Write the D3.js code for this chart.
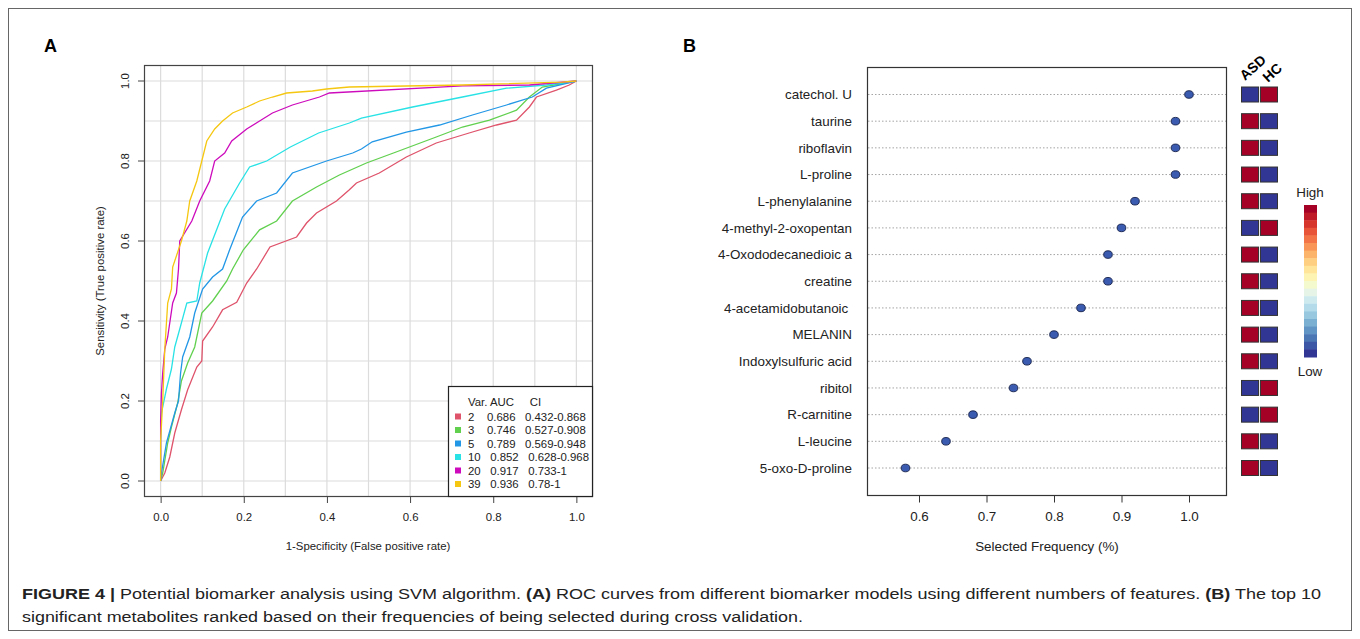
<!DOCTYPE html>
<html><head><meta charset="utf-8">
<script src="https://cdn.jsdelivr.net/npm/d3@7"></script>
<style>
body{margin:0;background:#fff;}
svg{display:block;font-family:"Liberation Sans",Arial,Helvetica,sans-serif;}
text{white-space:pre;}
</style></head><body>
<svg id="c" width="1360" height="639"></svg>
<script>
// ---------- Panel A data ----------
const rocVars = ["2","3","5","10","20","39"];
const rocAUC = ["0.686","0.746","0.789","0.852","0.917","0.936"];
const rocCI = ["0.432-0.868","0.527-0.908","0.569-0.948","0.628-0.968","0.733-1","0.78-1"];
const rocTicks = [0,0.2,0.4,0.6,0.8,1.0];
const rocGrid = [0,0.1,0.2,0.3,0.4,0.5,0.6,0.7,0.8,0.9,1.0];
const roc2 = [[0,0],[0.01,0.02],[0.022,0.06],[0.034,0.12],[0.05,0.178],[0.065,0.228],[0.087,0.285],[0.099,0.30],[0.101,0.35],[0.125,0.385],[0.149,0.428],[0.183,0.447],[0.207,0.495],[0.231,0.53],[0.263,0.585],[0.327,0.61],[0.351,0.645],[0.375,0.67],[0.423,0.70],[0.454,0.728],[0.471,0.745],[0.526,0.77],[0.591,0.81],[0.663,0.845],[0.742,0.87],[0.808,0.89],[0.856,0.902],[0.887,0.935],[0.904,0.96],[0.952,0.977],[0.983,0.99],[1,1]];
const roc3 = [[0,0],[0.005,0.02],[0.017,0.095],[0.026,0.135],[0.041,0.195],[0.05,0.25],[0.065,0.295],[0.082,0.335],[0.099,0.42],[0.125,0.45],[0.159,0.5],[0.173,0.53],[0.199,0.578],[0.238,0.628],[0.279,0.65],[0.317,0.70],[0.375,0.735],[0.43,0.765],[0.495,0.795],[0.56,0.82],[0.663,0.86],[0.726,0.885],[0.791,0.902],[0.856,0.927],[0.887,0.96],[0.918,0.985],[1,1]];
const roc5 = [[0,0],[0.002,0.02],[0.014,0.095],[0.034,0.17],[0.043,0.2],[0.048,0.27],[0.053,0.31],[0.070,0.36],[0.082,0.42],[0.101,0.48],[0.125,0.51],[0.149,0.53],[0.166,0.578],[0.197,0.66],[0.231,0.70],[0.279,0.72],[0.317,0.77],[0.399,0.80],[0.462,0.82],[0.483,0.83],[0.509,0.848],[0.591,0.872],[0.671,0.89],[0.75,0.915],[0.832,0.94],[0.894,0.96],[0.928,0.982],[1,1]];
const roc10 = [[0,0],[0,0.1],[0.002,0.17],[0.014,0.23],[0.026,0.28],[0.034,0.335],[0.046,0.38],[0.063,0.445],[0.087,0.45],[0.094,0.495],[0.113,0.57],[0.154,0.68],[0.190,0.745],[0.214,0.785],[0.255,0.80],[0.312,0.835],[0.38,0.87],[0.454,0.895],[0.483,0.907],[0.606,0.935],[0.726,0.96],[0.832,0.982],[0.928,0.99],[1,1]];
const roc20 = [[0,0],[0,0.15],[0.002,0.22],[0.005,0.27],[0.01,0.33],[0.017,0.36],[0.029,0.445],[0.038,0.47],[0.043,0.53],[0.046,0.6],[0.075,0.65],[0.094,0.70],[0.118,0.75],[0.130,0.80],[0.154,0.82],[0.171,0.85],[0.207,0.88],[0.238,0.9],[0.269,0.92],[0.317,0.94],[0.382,0.96],[0.406,0.97],[0.726,0.988],[0.887,0.99],[1,1]];
const roc39 = [[0,0],[0,0.1],[0.005,0.2],[0.01,0.33],[0.017,0.445],[0.026,0.48],[0.029,0.535],[0.05,0.6],[0.063,0.65],[0.070,0.70],[0.087,0.75],[0.099,0.80],[0.111,0.85],[0.130,0.88],[0.149,0.90],[0.173,0.92],[0.207,0.935],[0.238,0.95],[0.269,0.96],[0.303,0.97],[0.365,0.975],[0.399,0.98],[0.454,0.985],[0.726,0.99],[0.966,0.997],[1,1]];
const rocSeries = [roc2, roc3, roc5, roc10, roc20, roc39];

// ---------- Panel B data ----------
const metabolites = ["catechol. U","taurine","riboflavin","L-proline","L-phenylalanine","4-methyl-2-oxopentan","4-Oxododecanedioic a","creatine","4-acetamidobutanoic ","MELANIN","Indoxylsulfuric acid","ribitol","R-carnitine","L-leucine","5-oxo-D-proline"];
const frequency = [1.0,0.98,0.98,0.98,0.92,0.90,0.88,0.88,0.84,0.80,0.76,0.74,0.68,0.64,0.58];
const groups = ["ASD","HC"];
const asdLevel = [0,1,1,1,1,0,1,1,1,1,1,0,0,1,1];
const hcLevel  = [1,0,0,0,0,1,0,0,0,0,0,1,1,0,0];
const freqTicks = [0.6,0.7,0.8,0.9,1.0];
const legendSteps = d3.range(20);

// styles
const rocColors = ["#DF536B","#61D04F","#2297E6","#28E2E5","#CD0BBC","#F5C710"];

const svg = d3.select("#c");

// outer frame
svg.append("rect").attr("x",8.5).attr("y",8.5).attr("width",1343).attr("height",622)
  .attr("fill","none").attr("stroke","#666").attr("stroke-width",1);

// ================= Panel A =================
const xA = d3.scaleLinear().domain([-0.04,1.04]).range([144,593]);
const yA = d3.scaleLinear().domain([-0.04,1.04]).range([497,65]);
const gA = svg.append("g");
gA.append("text").attr("x",44).attr("y",52).attr("font-size",18).attr("font-weight","bold").text("A");

// grid
gA.selectAll(".gx").data(rocGrid).join("line")
  .attr("x1",d=>xA(d)).attr("x2",d=>xA(d)).attr("y1",65).attr("y2",497)
  .attr("stroke","#dcdcdc").attr("stroke-width",1.2);
gA.selectAll(".gy").data(rocGrid).join("line")
  .attr("y1",d=>yA(d)).attr("y2",d=>yA(d)).attr("x1",144).attr("x2",593)
  .attr("stroke","#dcdcdc").attr("stroke-width",1.2);

// curves
const line = d3.line().x(d=>xA(d[0])).y(d=>yA(d[1]));
rocSeries.forEach((s,i)=>{
  gA.append("path").datum(s).attr("d",line).attr("fill","none")
    .attr("stroke",rocColors[i]).attr("stroke-width",1.3);
});

// box
gA.append("rect").attr("x",144.5).attr("y",65.5).attr("width",448).attr("height",431)
  .attr("fill","none").attr("stroke","#444").attr("stroke-width",1.2);

// x axis
const axA = d3.axisBottom(xA).tickValues(rocTicks).tickFormat(d3.format(".1f")).tickSize(6).tickPadding(10);
const gxA = gA.append("g").attr("transform","translate(0,497)").call(axA);
gxA.select(".domain").remove();
gxA.selectAll("line").attr("stroke","#444");
gxA.selectAll("text").attr("font-size",11.4).attr("fill","#222").attr("font-family","Liberation Sans, Arial, sans-serif");

// y axis
rocTicks.forEach(v=>{
  gA.append("line").attr("x1",138).attr("x2",144).attr("y1",yA(v)).attr("y2",yA(v)).attr("stroke","#444");
  gA.append("text").attr("transform",`translate(129,${yA(v)}) rotate(-90)`)
    .attr("text-anchor","middle").attr("font-size",11.4).attr("fill","#222").text(d3.format(".1f")(v));
});
gA.append("text").attr("x",368).attr("y",550).attr("text-anchor","middle").attr("font-size",11.4).attr("fill","#222")
  .text("1-Specificity (False positive rate)");
gA.append("text").attr("transform","translate(104,281) rotate(-90)").attr("text-anchor","middle")
  .attr("font-size",11.4).attr("fill","#222").text("Sensitivity (True positive rate)");

// legend
const lg = gA.append("g");
lg.append("rect").attr("x",448.5).attr("y",386.5).attr("width",144).attr("height",110)
  .attr("fill","#fff").attr("stroke","#222").attr("stroke-width",1.2);
lg.append("text").attr("x",468).attr("y",406).attr("font-size",11.4).attr("fill","#222").text("Var. AUC     CI");
rocVars.forEach((v,i)=>{
  const yy = 420.5 + i*13.5;
  lg.append("rect").attr("x",455).attr("y",yy-7).attr("width",6).attr("height",6).attr("fill",rocColors[i]);
  lg.append("text").attr("x",468).attr("y",yy).attr("font-size",11.4).attr("fill","#222")
    .text(v + (v.length===1?"    ":"   ") + rocAUC[i] + "   " + rocCI[i]);
});

// ================= Panel B =================
const gB = svg.append("g");
gB.append("text").attr("x",683).attr("y",52).attr("font-size",18).attr("font-weight","bold").text("B");
const xB = d3.scaleLinear().domain([0.6,1.0]).range([919,1189]);
const yB = d3.scalePoint().domain(metabolites).range([94.5,468]);

gB.selectAll(".dl").data(metabolites).join("line")
  .attr("x1",868).attr("x2",1226).attr("y1",d=>yB(d)).attr("y2",d=>yB(d))
  .attr("stroke","#9a9a9a").attr("stroke-width",0.9).attr("stroke-dasharray","1.5,2");
gB.append("rect").attr("x",867.5).attr("y",67.5).attr("width",359).attr("height",428)
  .attr("fill","none").attr("stroke","#333").attr("stroke-width",1.2);
gB.selectAll(".pt").data(metabolites).join("ellipse")
  .attr("cx",(d,i)=>xB(frequency[i])).attr("cy",d=>yB(d)).attr("rx",4.3).attr("ry",3.8)
  .attr("fill","#3A5BB0").attr("stroke","#15204a").attr("stroke-width",0.9);
gB.selectAll(".lb").data(metabolites).join("text")
  .attr("x",852).attr("y",d=>yB(d)+4.7).attr("text-anchor","end").attr("font-size",13.4).attr("fill","#222")
  .text(d=>d);

const axB = d3.axisBottom(xB).tickValues(freqTicks).tickFormat(d3.format(".1f")).tickSize(7).tickPadding(9);
const gxB = gB.append("g").attr("transform","translate(0,495.5)").call(axB);
gxB.select(".domain").remove();
gxB.selectAll("line").attr("stroke","#333");
gxB.selectAll("text").attr("font-size",13.4).attr("fill","#222").attr("font-family","Liberation Sans, Arial, sans-serif");
gB.append("text").attr("x",1047).attr("y",551).attr("text-anchor","middle").attr("font-size",13.4).attr("fill","#222")
  .text("Selected Frequency (%)");

// heatmap
const xH = d3.scaleBand().domain(groups).range([1241.5,1277.5]).paddingInner(0.1);
const heatColor = v => d3.interpolateRdYlBu(1 - v);
const levels = [asdLevel, hcLevel];
groups.forEach((g,gi)=>{
  gB.selectAll(".h"+gi).data(metabolites).join("rect")
    .attr("x",xH(g)).attr("y",d=>yB(d)-7.5).attr("width",xH.bandwidth()).attr("height",15)
    .attr("fill",(d,i)=>heatColor(levels[gi][i])).attr("stroke","#333").attr("stroke-width",1);
});
gB.append("text").attr("transform","translate(1245,81) rotate(-42)").attr("font-size",14).attr("font-weight","bold").text("ASD");
gB.append("text").attr("transform","translate(1268,83) rotate(-42)").attr("font-size",14).attr("font-weight","bold").text("HC");

// color legend
const cbY = d3.scaleBand().domain(legendSteps).range([205,357]);
gB.selectAll(".cb").data(legendSteps).join("rect")
  .attr("x",1304).attr("y",d=>cbY(d)).attr("width",13).attr("height",cbY.bandwidth()+0.5)
  .attr("fill",d=>d3.interpolateRdYlBu(d/(legendSteps.length-1)));
gB.append("text").attr("x",1310).attr("y",197).attr("text-anchor","middle").attr("font-size",13.4).attr("fill","#222").text("High");
gB.append("text").attr("x",1310).attr("y",376).attr("text-anchor","middle").attr("font-size",13.4).attr("fill","#222").text("Low");

// ================= Caption =================
const cap1 = svg.append("text").attr("x",22).attr("y",599).attr("font-size",15.5)
  .attr("font-family","Liberation Sans Narrow, Liberation Sans, Arial, sans-serif").attr("fill","#222")
  .attr("textLength",1299).attr("lengthAdjust","spacingAndGlyphs");
cap1.append("tspan").attr("font-weight","bold").text("FIGURE 4 |");
cap1.append("tspan").text(" Potential biomarker analysis using SVM algorithm. ");
cap1.append("tspan").attr("font-weight","bold").text("(A)");
cap1.append("tspan").text(" ROC curves from different biomarker models using different numbers of features. ");
cap1.append("tspan").attr("font-weight","bold").text("(B)");
cap1.append("tspan").text(" The top 10");
svg.append("text").attr("x",22).attr("y",622).attr("font-size",15.5)
  .attr("font-family","Liberation Sans Narrow, Liberation Sans, Arial, sans-serif").attr("fill","#222")
  .attr("textLength",781).attr("lengthAdjust","spacingAndGlyphs")
  .text("significant metabolites ranked based on their frequencies of being selected during cross validation.");
</script>
</body></html>
